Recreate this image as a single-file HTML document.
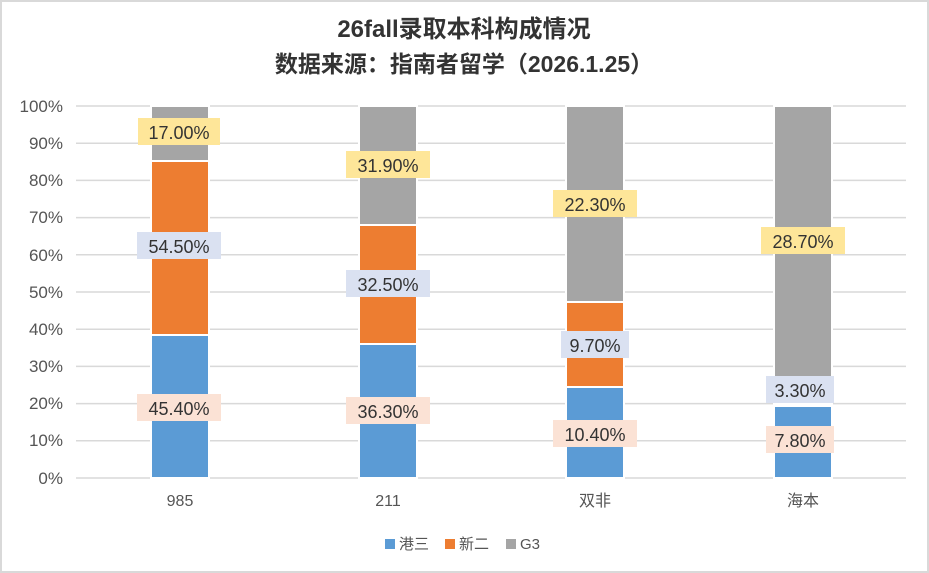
<!DOCTYPE html>
<html><head><meta charset="utf-8"><style>
html,body{margin:0;padding:0;background:#fff}
svg{display:block}
text{font-family:"Liberation Sans","Noto Sans CJK SC",sans-serif}
</style></head><body>
<svg width="929" height="573" viewBox="0 0 929 573" xmlns="http://www.w3.org/2000/svg">
<rect x="1" y="1" width="927" height="571" fill="#fff" stroke="#d9d9d9" stroke-width="2"/>
<text x="464" y="37" font-size="24" font-weight="bold" fill="#333" text-anchor="middle">26fall录取本科构成情况</text>
<text x="464" y="72" font-size="23" font-weight="bold" fill="#333" text-anchor="middle">数据来源：指南者留学（2026.1.25）</text>
<g stroke="#d9d9d9" stroke-width="1.5">
<line x1="76" x2="906" y1="106" y2="106"/><line x1="76" x2="906" y1="143.2" y2="143.2"/>
<line x1="76" x2="906" y1="180.4" y2="180.4"/><line x1="76" x2="906" y1="217.6" y2="217.6"/>
<line x1="76" x2="906" y1="254.8" y2="254.8"/><line x1="76" x2="906" y1="292" y2="292"/>
<line x1="76" x2="906" y1="329.2" y2="329.2"/><line x1="76" x2="906" y1="366.4" y2="366.4"/>
<line x1="76" x2="906" y1="403.6" y2="403.6"/><line x1="76" x2="906" y1="440.8" y2="440.8"/>
<line x1="76" x2="906" y1="478" y2="478"/>
</g>
<g font-size="17" fill="#555" text-anchor="end">
<text x="63" y="112">100%</text><text x="63" y="149">90%</text><text x="63" y="186">80%</text>
<text x="63" y="223">70%</text><text x="63" y="261">60%</text><text x="63" y="298">50%</text>
<text x="63" y="335">40%</text><text x="63" y="372">30%</text><text x="63" y="409">20%</text>
<text x="63" y="446">10%</text><text x="63" y="484">0%</text>
</g>
<g stroke="#fff" stroke-width="2">
<rect x="151" y="106" width="58" height="55" fill="#a5a5a5"/>
<rect x="151" y="161" width="58" height="174" fill="#ed7d31"/>
<rect x="151" y="335" width="58" height="143" fill="#5b9bd5"/>
<rect x="359" y="106" width="58" height="119" fill="#a5a5a5"/>
<rect x="359" y="225" width="58" height="119" fill="#ed7d31"/>
<rect x="359" y="344" width="58" height="134" fill="#5b9bd5"/>
<rect x="566" y="106" width="58" height="196" fill="#a5a5a5"/>
<rect x="566" y="302" width="58" height="85" fill="#ed7d31"/>
<rect x="566" y="387" width="58" height="91" fill="#5b9bd5"/>
<rect x="774" y="106" width="58" height="298" fill="#a5a5a5"/>
<rect x="774" y="404" width="58" height="2" fill="#ed7d31"/>
<rect x="774" y="406" width="58" height="72" fill="#5b9bd5"/>
</g>
<g font-size="18" fill="#333" text-anchor="middle">
<rect x="138" y="118" width="82" height="27" fill="#fee699"/><text x="179" y="139">17.00%</text>
<rect x="137" y="232" width="84" height="27" fill="#dae1f1"/><text x="179" y="253">54.50%</text>
<rect x="137" y="394" width="84" height="27" fill="#fbe2d5"/><text x="179" y="415">45.40%</text>
<rect x="346" y="151" width="84" height="27" fill="#fee699"/><text x="388" y="172">31.90%</text>
<rect x="346" y="270" width="84" height="27" fill="#dae1f1"/><text x="388" y="291">32.50%</text>
<rect x="346" y="397" width="84" height="27" fill="#fbe2d5"/><text x="388" y="418">36.30%</text>
<rect x="553" y="190" width="84" height="27" fill="#fee699"/><text x="595" y="211">22.30%</text>
<rect x="561" y="331" width="68" height="27" fill="#dae1f1"/><text x="595" y="352">9.70%</text>
<rect x="553" y="420" width="84" height="27" fill="#fbe2d5"/><text x="595" y="441">10.40%</text>
<rect x="761" y="227" width="84" height="27" fill="#fee699"/><text x="803" y="248">28.70%</text>
<rect x="766" y="376" width="68" height="27" fill="#dae1f1"/><text x="800" y="397">3.30%</text>
<rect x="766" y="426" width="68" height="27" fill="#fbe2d5"/><text x="800" y="447">7.80%</text>
</g>
<g font-size="16" fill="#555" text-anchor="middle">
<text x="180" y="506">985</text><text x="388" y="506">211</text>
<text x="595" y="506">双非</text><text x="803" y="506">海本</text>
</g>
<g font-size="15" fill="#555">
<rect x="385" y="539" width="10" height="10" fill="#5b9bd5"/><text x="399" y="549">港三</text>
<rect x="445" y="539" width="10" height="10" fill="#ed7d31"/><text x="459" y="549">新二</text>
<rect x="506" y="539" width="10" height="10" fill="#a5a5a5"/><text x="520" y="549">G3</text>
</g>
</svg>
</body></html>
